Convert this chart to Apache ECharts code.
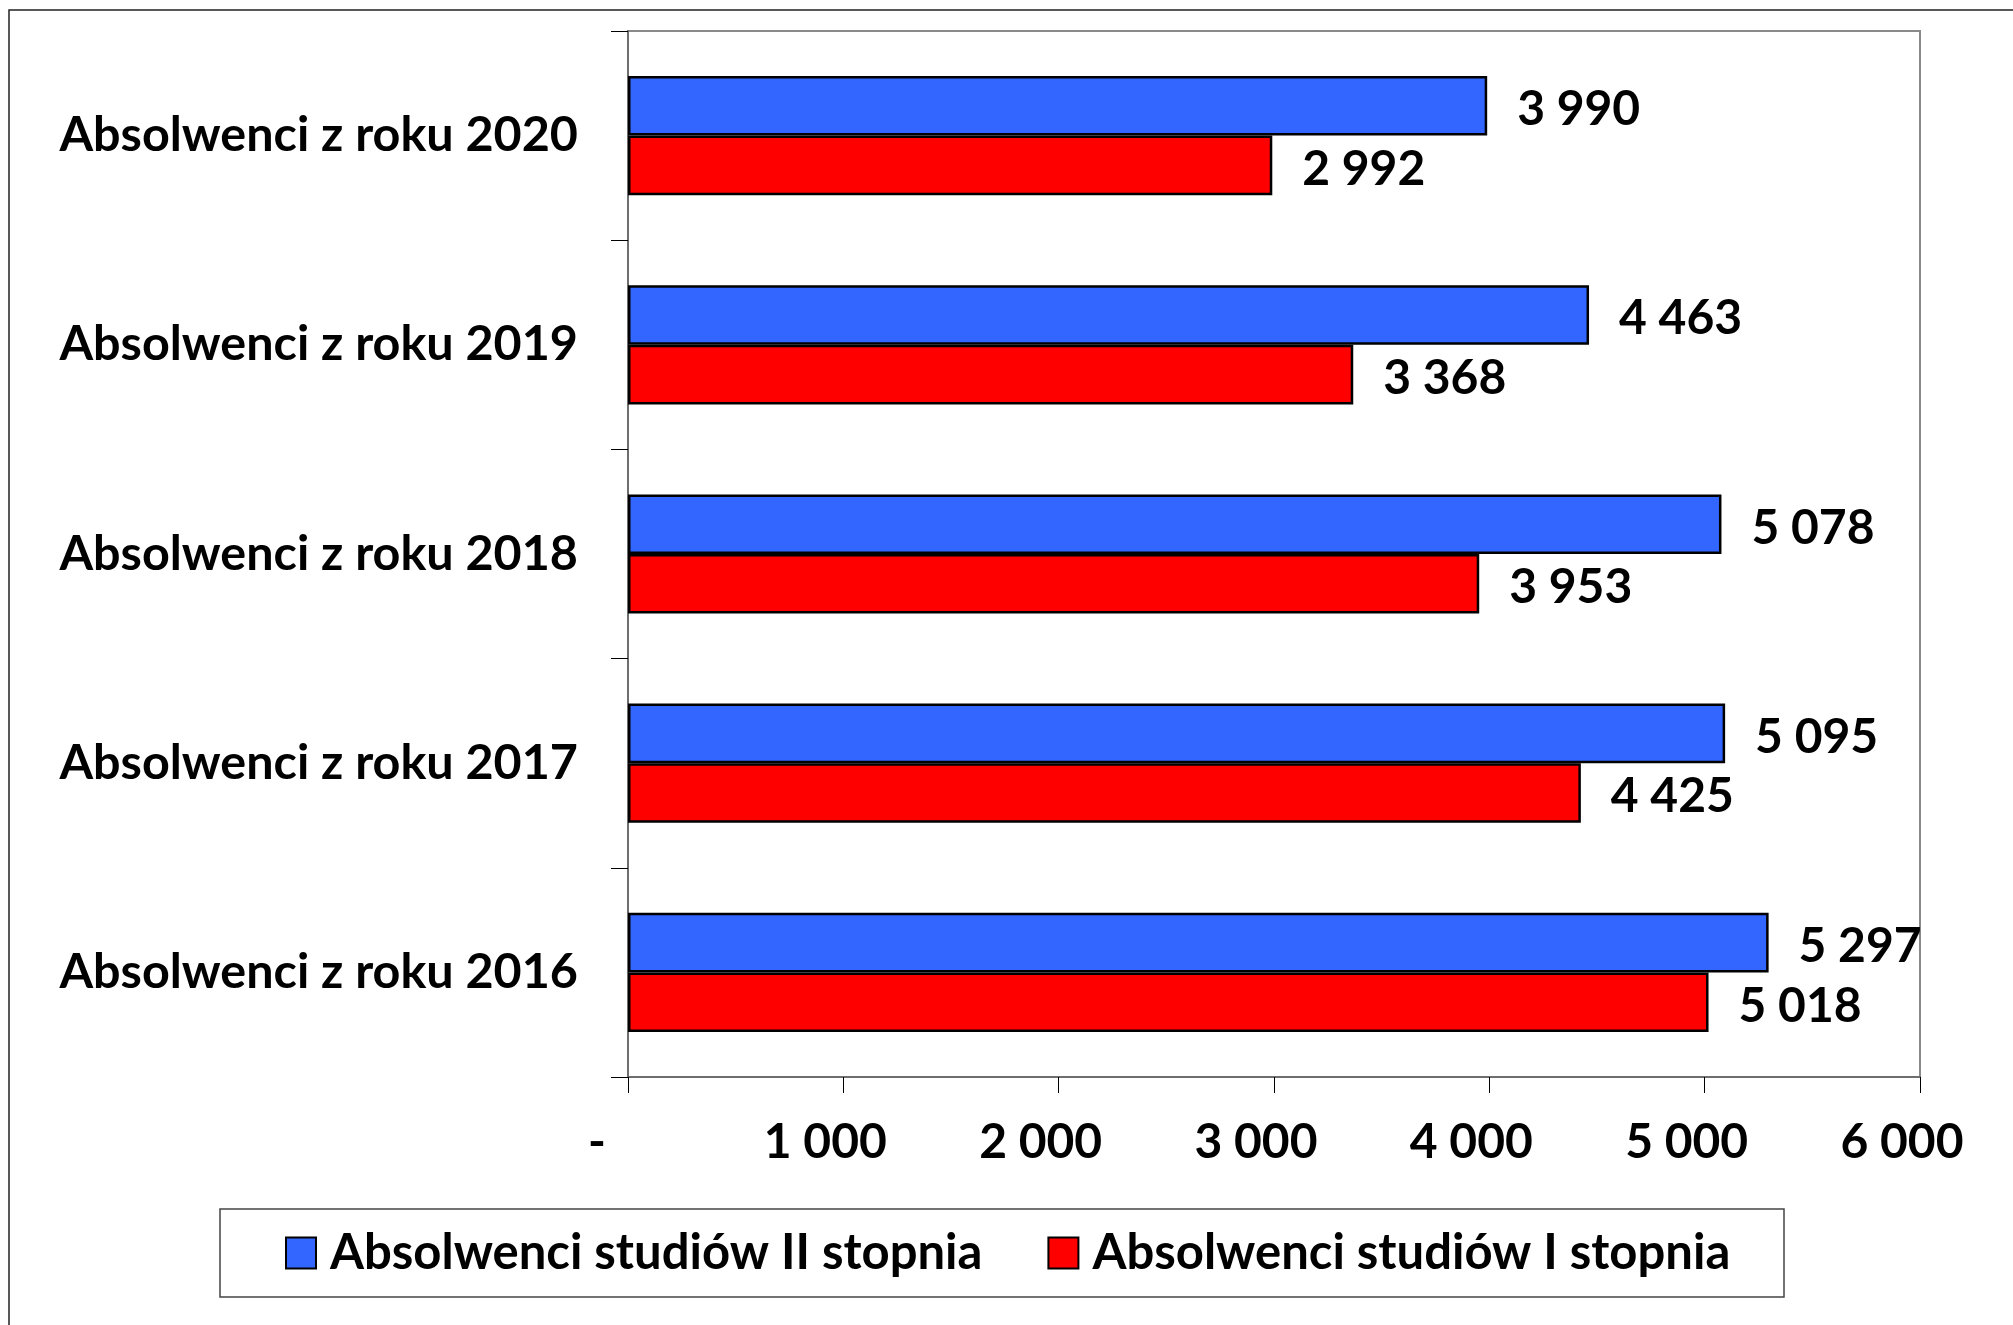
<!DOCTYPE html>
<html>
<head>
<meta charset="utf-8">
<script src="https://cdn.jsdelivr.net/npm/echarts@6/dist/echarts.min.js"></script>
<style>
  html, body { margin: 0; padding: 0; background: #fff; }
  #chart { width: 2013px; height: 1325px; }
</style>
</head>
<body>
<div id="chart"></div>
<script>
// categories from bottom to top (category axis starts at the bottom)
var years = ["Absolwenci z roku 2016", "Absolwenci z roku 2017", "Absolwenci z roku 2018", "Absolwenci z roku 2019", "Absolwenci z roku 2020"];
var secondDegree = [5297, 5095, 5078, 4463, 3990]; // studia II stopnia
var firstDegree = [5018, 4425, 3953, 3368, 2992]; // studia I stopnia
var xTicks = [0, 1000, 2000, 3000, 4000, 5000, 6000];

var nameII = "Absolwenci studiów II stopnia";
var nameI = "Absolwenci studiów I stopnia";
var font = "Lato";

// 1 000 style formatting
function fmt(v) {
  return String(v).replace(/\B(?=(\d{3})+(?!\d))/g, " ");
}

function barLabel() {
  return {
    show: true,
    position: "right",
    distance: 30,
    offset: [0, 4],
    fontFamily: font,
    fontWeight: "bold",
    fontSize: 48,
    color: "#000",
    formatter: function (p) { return fmt(p.value); },
  };
}

var chart = echarts.init(document.getElementById("chart"));

chart.setOption({
  backgroundColor: "#fff",
  animation: false,
  textStyle: { fontFamily: font },
  grid: {
    left: 628,
    right: 93,
    top: 31,
    bottom: 248,
    show: true,
    borderColor: "#8a8a8a",
    borderWidth: 2,
  },
  legend: {
    data: [nameII, nameI],
    left: 285,
    top: 1228,
    padding: 0,
    itemWidth: 30,
    itemHeight: 31,
    itemGap: 65,
    icon: "rect",
    itemStyle: { borderColor: "#000", borderWidth: 2 },
    textStyle: {
      fontFamily: font,
      fontWeight: "bold",
      fontSize: 49,
      color: "#000",
      lineHeight: 50,
      padding: [0, 0, 0, 9],
    },
  },
  xAxis: {
    type: "value",
    min: xTicks[0],
    max: xTicks[xTicks.length - 1],
    interval: 1000,
    splitLine: { show: false },
    axisLine: { show: true, lineStyle: { color: "#6e6e6e", width: 2 } },
    axisTick: { show: true, length: 16, lineStyle: { color: "#000", width: 1 } },
    axisLabel: {
      margin: 66,
      verticalAlign: "middle",
      fontFamily: font,
      fontWeight: "bold",
      fontSize: 48,
      color: "#000",
      showMinLabel: true,
      showMaxLabel: true,
      formatter: function (v) {
        return v === 0 ? "{d|-}" : "{n|" + fmt(v) + "}";
      },
      rich: {
        d: { fontFamily: font, fontWeight: "bold", fontSize: 48, color: "#000", padding: [0, 62, 0, 0] },
        n: { fontFamily: font, fontWeight: "bold", fontSize: 48, color: "#000", padding: [0, 36, 0, 0] },
      },
    },
  },
  yAxis: {
    type: "category",
    data: years,
    axisLine: { show: true, lineStyle: { color: "#6e6e6e", width: 2 } },
    axisTick: { show: true, length: 17, lineStyle: { color: "#000", width: 1 } },
    axisLabel: {
      margin: 50,
      fontFamily: font,
      fontWeight: "bold",
      fontSize: 48.5,
      color: "#000",
    },
  },
  series: [
    {
      name: nameII,
      type: "bar",
      data: secondDegree,
      barGap: "0%",
      barCategoryGap: "43%",
      itemStyle: { color: "#3366ff", borderColor: "#000", borderWidth: 2.5 },
      label: barLabel(),
    },
    {
      name: nameI,
      type: "bar",
      data: firstDegree,
      barGap: "0%",
      barCategoryGap: "43%",
      itemStyle: { color: "#ff0000", borderColor: "#000", borderWidth: 2.5 },
      label: barLabel(),
    },
  ],
  graphic: [
    {
      // outer chart border (only left and top are inside the picture)
      type: "rect",
      shape: { x: 9, y: 10, width: 2100, height: 1400 },
      style: { fill: null, stroke: "#222", lineWidth: 1.5 },
      silent: true,
    },
    {
      // legend box
      type: "rect",
      shape: { x: 220, y: 1209, width: 1564, height: 88 },
      style: { fill: null, stroke: "#444", lineWidth: 1.5 },
      silent: true,
    },
  ],
});
</script>
</body>
</html>
